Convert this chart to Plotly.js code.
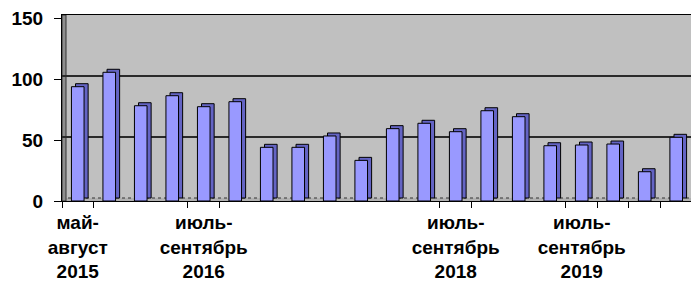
<!DOCTYPE html>
<html><head><meta charset="utf-8">
<script src="https://cdn.plot.ly/plotly-3.0.1.min.js"></script>
<style>html,body{margin:0;padding:0;overflow:hidden;background:#fff}</style>
</head><body><div id="chart" style="width:691px;height:289px"></div>
<script>
// periods (category index along the axis)
const periods = [1,2,3,4,5,6,7,8,9,10,11,12,13,14,15,16,17,18,19,20];
// values
const values = [93.7,105.5,78.1,86.3,77.3,81.4,44,44,53.3,33.3,59.3,63.7,56.8,74,69.1,45.3,45.9,46.7,24,52.2];
// labelled periods and their labels
const labelPeriods = [1,5,13,17];
const labelTexts = ["май-<br>август<br>2015","июль-<br>сентябрь<br>2016","июль-<br>сентябрь<br>2018","июль-<br>сентябрь<br>2019"];
// category boundaries that carry tick marks
const tickBounds = [0.5,1.5,4.5,5.5,12.5,13.5,16.5,17.5,18.5,19.5];
const yTicks = [0,50,100,150];

const DEPTH_Y = 2.46;   // depth of the 3-D effect, in y units (~3px)
const DEPTH_X = 0.13;   // depth in x units (~4px)
const BW = 0.40;
const XR = [0.5, 20.47];
const YR = [0, 152.46];
const FONT = "Liberation Sans, Arial, sans-serif";

// back plane (main subplot): side/top faces of the bars + wall grid
const side = {
  type:'bar', x: periods, y: values, base: 0, xaxis:'x', yaxis:'y',
  width: BW, offset: -BW/2 + DEPTH_X,
  marker:{color:'#6464C4', line:{color:'#000', width:1}},
  hoverinfo:'skip', showlegend:false
};
// front plane (overlay subplot): front faces
const front = {
  type:'bar', x: periods, y: values, xaxis:'x2', yaxis:'y2',
  width: BW,
  marker:{color:'#9999FF', line:{color:'#000', width:1}},
  showlegend:false
};

const layout = {
  width:691, height:289,
  margin:{l:62, r:0, t:15, b:88},
  paper_bgcolor:'#fff', plot_bgcolor:'#C0C0C0',
  barmode:'overlay',
  xaxis:{range:XR, tickmode:'array', tickvals:tickBounds, ticktext:tickBounds.map(()=>''),
    ticks:'outside', ticklen:6, tickcolor:'#000', tickwidth:1, mirror:true,
    showgrid:false, zeroline:false, showline:true, linecolor:'#000', linewidth:1, showticklabels:false},
  yaxis:{range:[YR[0]-DEPTH_Y, YR[1]-DEPTH_Y], tickmode:'array', tickvals:[50,100,150],
    showticklabels:false, ticks:'', showgrid:true, gridcolor:'#2a2a2a', gridwidth:1.5,
    zeroline:false, showline:false},
  xaxis2:{range:XR, overlaying:'x', anchor:'y2', side:'bottom', tickmode:'array', tickvals:labelPeriods, ticktext:labelTexts,
    ticks:'', showgrid:false, zeroline:false, showline:false,
    tickfont:{family:FONT, size:19, color:'#000', weight:'bold'}, ticklabelstandoff:8},
  yaxis2:{range:YR, overlaying:'y', side:'left', anchor:'x2', tickmode:'array', tickvals:yTicks, ticks:'outside', ticklen:7,
    tickcolor:'#000', tickwidth:1, showgrid:false, zeroline:false, showline:true,
    linecolor:'#000', linewidth:1, ticklabelstandoff:7,
    tickfont:{family:FONT, size:19, color:'#000', weight:'bold'}},
  shapes:[
    {type:'rect', layer:'between', xref:'paper', yref:'y', x0:0, x1:1, y0:-DEPTH_Y, y1:0,
      fillcolor:'#B0B0B0', line:{width:0}},
    {type:'line', layer:'between', xref:'paper', yref:'y', x0:0, x1:1, y0:0, y1:0,
      line:{color:'#333', width:1, dash:'dot'}},
    {type:'rect', layer:'between', xref:'paper', yref:'y', xsizemode:'pixel', xanchor:0,
      x0:0, x1:4, y0:-DEPTH_Y, y1:150, fillcolor:'#8E8E8E', line:{color:'#333', width:1}}
  ]
};
Plotly.newPlot('chart', [side, front], layout, {displayModeBar:false, staticPlot:true});
</script></body></html>
